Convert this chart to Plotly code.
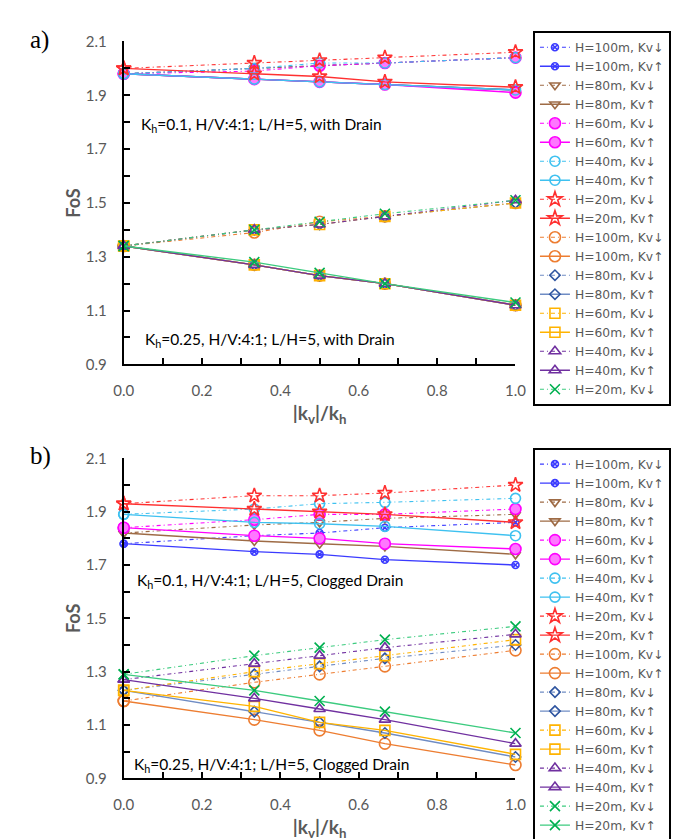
import plotly.graph_objects as go

x_vals = [0.0, 1/3, 0.5, 2/3, 1.0]
heights = ["100", "80", "60", "40", "20"]

# Panel a) with drain, Kh=0.1  (Kv down, Kv up) for H=100,80,60,40,20
a_kh01_down = [
    [1.98, 2.00, 2.01, 2.02, 2.04],
    [1.98, 2.00, 2.01, 2.02, 2.04],
    [1.98, 1.99, 2.01, 2.02, 2.04],
    [1.98, 2.00, 2.02, 2.02, 2.04],
    [2.00, 2.02, 2.03, 2.04, 2.06],
]
a_kh01_up = [
    [1.98, 1.96, 1.95, 1.94, 1.92],
    [1.98, 1.96, 1.95, 1.94, 1.92],
    [1.98, 1.96, 1.95, 1.94, 1.91],
    [1.98, 1.96, 1.95, 1.94, 1.92],
    [2.00, 1.98, 1.97, 1.95, 1.93],
]
# Panel a) with drain, Kh=0.25
a_kh025_down = [
    [1.34, 1.39, 1.43, 1.45, 1.50],
    [1.34, 1.40, 1.42, 1.45, 1.50],
    [1.34, 1.40, 1.42, 1.45, 1.50],
    [1.34, 1.40, 1.42, 1.45, 1.51],
    [1.34, 1.40, 1.43, 1.46, 1.51],
]
a_kh025_up = [
    [1.34, 1.27, 1.23, 1.20, 1.12],
    [1.34, 1.27, 1.23, 1.20, 1.12],
    [1.34, 1.27, 1.23, 1.20, 1.12],
    [1.34, 1.27, 1.23, 1.20, 1.12],
    [1.34, 1.28, 1.24, 1.20, 1.13],
]
# Panel b) clogged drain, Kh=0.1
b_kh01_down = [
    [1.78, 1.81, 1.82, 1.84, 1.86],
    [1.82, 1.85, 1.86, 1.875, 1.89],
    [1.84, 1.87, 1.89, 1.89, 1.91],
    [1.89, 1.91, 1.93, 1.935, 1.95],
    [1.93, 1.96, 1.96, 1.97, 2.00],
]
b_kh01_up = [
    [1.78, 1.75, 1.74, 1.72, 1.70],
    [1.82, 1.79, 1.78, 1.77, 1.74],
    [1.84, 1.81, 1.80, 1.78, 1.76],
    [1.89, 1.86, 1.855, 1.845, 1.81],
    [1.93, 1.91, 1.90, 1.89, 1.86],
]
# Panel b) clogged drain, Kh=0.25
b_kh025_down = [
    [1.19, 1.26, 1.29, 1.32, 1.38],
    [1.23, 1.29, 1.32, 1.35, 1.40],
    [1.23, 1.30, 1.33, 1.36, 1.42],
    [1.27, 1.33, 1.36, 1.39, 1.44],
    [1.29, 1.36, 1.39, 1.42, 1.47],
]
b_kh025_up = [
    [1.19, 1.12, 1.08, 1.03, 0.95],
    [1.23, 1.15, 1.11, 1.07, 0.98],
    [1.23, 1.17, 1.11, 1.08, 0.99],
    [1.27, 1.20, 1.16, 1.12, 1.03],
    [1.29, 1.23, 1.19, 1.15, 1.07],
]

x_ticks = [0.0, 0.2, 0.4, 0.6, 0.8, 1.0]
y_ticks = [0.9, 1.1, 1.3, 1.5, 1.7, 1.9, 2.1]

# styles: group 1 (Kh=0.1), group 2 (Kh=0.25)
style1 = [
    dict(color="#3B3BFF", symbol="circle-x-open", size=7, fill=None),
    dict(color="#9E6B45", symbol="triangle-down-open", size=9, fill=None),
    dict(color="#FF00FF", symbol="circle", size=11, fill="#FF77FF"),
    dict(color="#3EC1F0", symbol="circle-open", size=10, fill=None),
    dict(color="#FF3030", symbol="star-open", size=11, fill=None),
]
style2 = [
    dict(color="#ED7D31", symbol="circle-open", size=11, fill=None),
    dict(color="#2F55A0", symbol="diamond-open", size=8, fill=None, line="#6F8CC4"),
    dict(color="#FFB300", symbol="square-open", size=10, fill=None),
    dict(color="#7030A0", symbol="triangle-up-open", size=10, fill=None),
    dict(color="#00B050", symbol="x-thin-open", size=10, fill=None, line="#3CCB7F"),
]

DASH = "4px,3px,1px,3px"
fig = go.Figure()


def add(xa, ya, leg, ys, st, down, show=True):
    h = ys[0]
    lc = st.get("line", st["color"])
    marker = dict(symbol=st["symbol"], size=st["size"], color=st["fill"] or st["color"],
                  line=dict(color=st["color"], width=1.6))
    fig.add_trace(go.Scatter(
        x=x_vals, y=ys[1], mode="lines+markers", xaxis=xa, yaxis=ya, legend=leg,
        name=f"H={h}m, Kv" + ("\u2193" if down else "\u2191"),
        line=dict(color=lc, width=1.1 if down else 1.4, dash=DASH if down else "solid"),
        marker=marker, cliponaxis=False, showlegend=show))


for xa, ya, leg, g1d, g1u, g2d, g2u, drop_last in [
    ("x", "y", "legend", a_kh01_down, a_kh01_up, a_kh025_down, a_kh025_up, True),
    ("x2", "y2", "legend2", b_kh01_down, b_kh01_up, b_kh025_down, b_kh025_up, False),
]:
    for i, h in enumerate(heights):
        add(xa, ya, leg, (h, g1d[i]), style1[i], True)
        add(xa, ya, leg, (h, g1u[i]), style1[i], False)
    for i, h in enumerate(heights):
        add(xa, ya, leg, (h, g2d[i]), style2[i], True)
        add(xa, ya, leg, (h, g2u[i]), style2[i], False, show=not (drop_last and i == 4))

W, H = 695, 839
xdom = [109 / W, 513 / W]
ya_dom = [1 - 354 / H, 1 - 24 / H]
yb_dom = [1 - 777 / H, 1 - 450 / H]

tickfont = dict(family="Lato, Open Sans, sans-serif", size=15, color="#595959")
xtitle = dict(text="<b>|k<sub>v</sub>|/k<sub>h</sub></b>",
              font=dict(family="Lato, Open Sans, sans-serif", size=19, color="#595959"), standoff=8)
ytitle = dict(text="<b>FoS</b>", font=dict(family="Lato, Open Sans, sans-serif", size=18, color="#595959"),
              standoff=0)


def xaxis(anchor):
    return dict(domain=xdom, range=[0, 1], anchor=anchor, showline=True, linecolor="black", linewidth=2,
                ticks="inside", tickvals=x_ticks, ticktext=[f"{v:.1f}" for v in x_ticks],
                ticklen=6, tickwidth=1.5, tickcolor="black",
                minor=dict(ticks="inside", dtick=0.1, tick0=0, ticklen=6, tickwidth=1.5, tickcolor="black"),
                showgrid=False, zeroline=False, tickfont=tickfont, ticklabelstandoff=12, title=xtitle)


def yaxis(dom, anchor):
    return dict(domain=dom, range=[0.9, 2.1], anchor=anchor, showline=True, linecolor="black", linewidth=2,
                ticks="inside", tickvals=y_ticks, ticktext=[f"{v:.1f}" for v in y_ticks],
                ticklen=6, tickwidth=1.5, tickcolor="black",
                minor=dict(ticks="inside", dtick=0.1, tick0=0.9, ticklen=6, tickwidth=1.5, tickcolor="black"),
                showgrid=False, zeroline=False, tickfont=tickfont, ticklabelstandoff=12, title=ytitle)


legfont = dict(family="DejaVu Sans, Open Sans, sans-serif", size=12.3, color="#595959")
fig.update_layout(
    width=W, height=H, margin=dict(l=0, r=0, t=0, b=0),
    paper_bgcolor="white", plot_bgcolor="white",
    xaxis=xaxis("y"), yaxis=yaxis(ya_dom, "x"),
    xaxis2=xaxis("y2"), yaxis2=yaxis(yb_dom, "x2"),
    legend=dict(x=531 / W, y=1 - 13 / H, xanchor="left", yanchor="top", bordercolor="black", borderwidth=2,
                font=legfont, tracegroupgap=0, bgcolor="white"),
    legend2=dict(x=531 / W, y=1 - 439 / H, xanchor="left", yanchor="top", bordercolor="black", borderwidth=2,
                 font=legfont, tracegroupgap=0, bgcolor="white"),
    showlegend=True,
)

annfont = dict(family="Lato, Open Sans, sans-serif", size=15.5, color="black")
anns = [
    ("x", "y", 0.04, 1.79, "K<sub>h</sub>=0.1, H/V:4:1; L/H=5, with Drain"),
    ("x", "y", 0.05, 0.99, "K<sub>h</sub>=0.25, H/V:4:1; L/H=5, with Drain"),
    ("x2", "y2", 0.03, 1.64, "K<sub>h</sub>=0.1, H/V:4:1; L/H=5, Clogged Drain"),
    ("x2", "y2", 0.02, 0.95, "K<sub>h</sub>=0.25, H/V:4:1; L/H=5, Clogged Drain"),
]
for xr, yr, xv, yv, t in anns:
    fig.add_annotation(xref=xr, yref=yr, x=xv, y=yv, text=t, showarrow=False, xanchor="left",
                       yanchor="middle", font=annfont)
for yv, t in [(1 - 22 / H, "a)"), (1 - 448 / H, "b)")]:
    fig.add_annotation(xref="paper", yref="paper", x=10 / W, y=yv, text=t, showarrow=False, xanchor="left",
                       yanchor="middle", font=dict(family="Liberation Serif, serif", size=25, color="black"))

fig.write_html("out.html")
